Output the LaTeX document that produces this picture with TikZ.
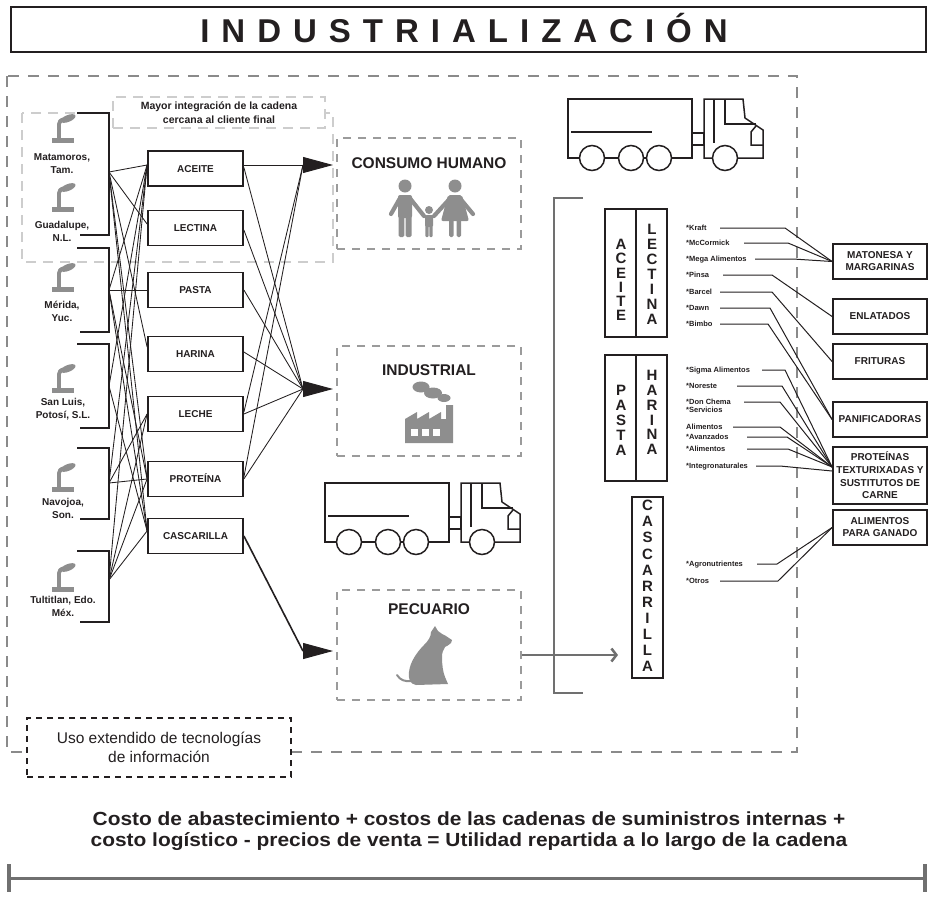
\documentclass[tikz,border=0pt]{standalone}
\usepackage{fontspec}
\setmainfont{Liberation Sans}
\newfontfamily\widesans[FakeStretch=1.1]{Liberation Sans}
\usetikzlibrary{arrows.meta}
\definecolor{ink}{HTML}{231F20}
\definecolor{icong}{HTML}{8E8E8E}
\definecolor{outerg}{HTML}{8A8A8A}
\definecolor{lightg}{HTML}{CDCDCD}
\definecolor{areag}{HTML}{9B9B9B}
\definecolor{barg}{HTML}{707070}
\newcommand{\tsp}{\kern 12pt}
\tikzset{
  prodbox/.style={draw=ink, line width=1.8pt, fill=white, minimum width=95pt, minimum height=35pt, inner sep=0pt, text height=7.2pt, text depth=0pt, font=\bfseries\fontsize{10}{12}\selectfont, text=ink},
  catbox/.style={draw=ink, line width=1.8pt, fill=white, minimum width=94pt, inner sep=0pt, align=center, font=\bfseries\fontsize{10}{12}\selectfont, text=ink},
  areabox/.style={draw=areag, line width=1.8pt, dash pattern=on 8pt off 7pt, minimum width=184pt, minimum height=110pt, inner sep=0pt},
  areatitle/.style={anchor=base, font=\bfseries\fontsize{15.5}{16}\selectfont, text=ink, inner sep=0pt},
  plantlbl/.style={align=center, font=\bfseries\fontsize{10}{13}\selectfont, text=ink, inner sep=0pt},
  vcolbox/.style={draw=ink, line width=1.8pt, fill=white, inner sep=0pt},
  vtxt/.style={align=center, inner sep=0pt, text=ink},
  complbl/.style={anchor=west, inner sep=0pt, text height=5.5pt, text depth=1.5pt, font=\bfseries\fontsize{7.5}{8}\selectfont, text=ink},
  compline/.style={draw=ink, line width=1pt},
  webline/.style={draw=ink, line width=0.85pt},
  brk/.style={draw=ink, line width=1.8pt},
  bigarrow/.style={draw=ink, line width=0.9pt, -{Triangle[length=30pt,width=16pt]}},
  truckline/.style={draw=ink, line width=1.5pt},
  plant/.pic={
    \fill[icong] (-11,0) rectangle (11,-5);
    \fill[icong] (-6,-5) rectangle (-2,-19);
    \fill[icong] (-6,-19) -- (-2,-19) .. controls (-1.5,-21) and (0,-22) .. (2,-22.5) -- (0,-25.5) .. controls (-4,-24.5) and (-6,-22) .. cycle;
    \fill[icong, rotate around={22:(5,-24.5)}] (5,-24.5) ellipse [x radius=8, y radius=3.4];
  },
  truck/.pic={
    \draw[truckline] (0,0) rectangle (124,59);
    \draw[truckline] (3,33) -- (84,33);
    \draw[truckline] (124,34) rectangle (136,46);
    \draw[truckline] (136,59) -- (136,0) -- (175,0) -- (177,19) -- (195,31) -- (195,59) -- cycle;
    \draw[truckline] (146,0) -- (146,44);
    \draw[truckline] (157,0) -- (157,25) -- (188,25);
    \draw[truckline] (188,27) -- (183,33) -- (183,46) -- (195,46);
    \foreach \cx in {24,63,91,157} {\draw[truckline, fill=white] (\cx,59) circle (12.5);}
  }
}
\begin{document}
\begin{tikzpicture}[x=1pt,y=-1pt]
\useasboundingbox (0,0) rectangle (928,900);

% ---------- title ----------
\node[draw=ink, line width=2pt, minimum width=915pt, minimum height=45pt, inner sep=0pt] (titlebox) at (468.5,29.5) {};
\node[anchor=base, inner sep=0pt, font=\bfseries\fontsize{33}{36}\selectfont, text=ink] (title) at (464,42)
  {I\tsp N\tsp D\tsp U\tsp S\tsp T\tsp R\tsp I\tsp A\tsp L\tsp I\tsp Z\tsp A\tsp C\tsp I\tsp Ó\tsp N};

% ---------- frames ----------
\draw[outerg, line width=1.5pt, dash pattern=on 11pt off 9pt] (7,76) rectangle (797,752);
\draw[lightg, line width=2pt, dash pattern=on 10pt off 7pt] (22,113) rectangle (333,262);
\node[draw=lightg, line width=2pt, dash pattern=on 10pt off 7pt, fill=white, minimum width=212pt, minimum height=31pt, inner sep=0pt, align=center, font=\bfseries\fontsize{10.5}{14}\selectfont, text=ink] (mayor) at (219,112.5) {Mayor integración de la cadena\\cercana al cliente final};
\node[draw=ink, line width=1.5pt, dash pattern=on 6pt off 5pt, fill=white, minimum width=264pt, minimum height=59pt, inner sep=0pt, align=center, font=\fontsize{15.5}{18.5}\selectfont, text=ink] (uso) at (159,747.5) {Uso extendido de tecnologías\\de información};

% ---------- plants ----------
\pic at (63,143) {plant};
\pic at (63,212) {plant};
\pic at (63,292) {plant};
\pic at (63,393) {plant};
\pic at (63,492) {plant};
\pic at (63,592) {plant};
\node[plantlbl] (matam) at (62,163.5) {Matamoros,\\Tam.};
\node[plantlbl] (guada) at (62,231) {Guadalupe,\\N.L.};
\node[plantlbl] (merid) at (62,311) {Mérida,\\Yuc.};
\node[plantlbl] (sanlu) at (63,409) {San Luis,\\Potosí, S.L.};
\node[plantlbl] (navoj) at (63,508.5) {Navojoa,\\Son.};
\node[plantlbl] (tulti) at (63,606.5) {Tultitlan, Edo.\\Méx.};

\draw[brk] (77,113) -- (109,113) -- (109,235) -- (80,235);
\draw[brk] (77,248) -- (109,248) -- (109,332) -- (80,332);
\draw[brk] (77,344) -- (109,344) -- (109,428) -- (80,428);
\draw[brk] (77,448) -- (109,448) -- (109,519) -- (80,519);
\draw[brk] (77,551) -- (109,551) -- (109,622) -- (80,622);
\coordinate (g1) at (109,172);
\coordinate (g2) at (109,290);
\coordinate (g3) at (109,386);
\coordinate (g4) at (109,483);
\coordinate (g5) at (109,580);

% ---------- products ----------
\node[prodbox] (aceite) at (195.5,168.5) {ACEITE};
\node[prodbox] (lectina) at (195.5,228) {LECTINA};
\node[prodbox] (pasta) at (195.5,290) {PASTA};
\node[prodbox] (harina) at (195.5,354) {HARINA};
\node[prodbox] (leche) at (195.5,414) {LECHE};
\node[prodbox] (proteina) at (195.5,479) {PROTEÍNA};
\node[prodbox] (cascarilla) at (195.5,536) {CASCARILLA};

\coordinate (aIn) at ([yshift=3.5pt]aceite.west);
\coordinate (lIn) at ([yshift=4pt]lectina.west);
\coordinate (pIn) at (pasta.west);
\coordinate (hIn) at ([yshift=7pt]harina.west);
\coordinate (leIn) at (leche.west);
\coordinate (prIn) at (proteina.west);
\coordinate (cIn) at ([yshift=5pt]cascarilla.west);

\foreach \s/\t in {g1/aIn, g1/lIn, g1/hIn, g1/prIn, g1/cIn,
                   g2/aIn, g2/pIn, g2/prIn, g2/cIn,
                   g3/aIn, g3/cIn,
                   g4/aIn, g4/leIn, g4/prIn,
                   g5/aIn, g5/leIn, g5/prIn, g5/cIn}
  {\draw[webline] (\s) -- (\t);}

% ---------- destination areas ----------
\node[areabox, minimum height=111pt] (human) at (429,193.5) {};
\node[areabox] (indus) at (429,401) {};
\node[areabox] (pecu) at (429,645) {};
\node[areatitle] (humanT) at (429,168) {CONSUMO HUMANO};
\node[areatitle] (indusT) at (429,375) {INDUSTRIAL};
\node[areatitle] (pecuT) at (429,614) {PECUARIO};

\coordinate (hC) at (303,165);
\coordinate (hT) at (333,165);
\coordinate (iC) at (303,389);
\coordinate (iT) at (333,389);
\coordinate (pC) at (303,651);
\coordinate (pT) at (333,651);

\draw[webline] ([yshift=3.5pt]aceite.east) -- (hC);
\draw[webline] ([yshift=1pt]aceite.east) -- (iC);
\draw[webline] ([yshift=-2pt]lectina.east) -- (iC);
\draw[webline] (pasta.east) -- (iC);
\draw[webline] ([yshift=2pt]harina.east) -- (iC);
\draw[webline] ([yshift=2pt]leche.east) -- (hC);
\draw[webline] (leche.east) -- (iC);
\draw[webline] ([yshift=2pt]proteina.east) -- (hC);
\draw[webline] (proteina.east) -- (iC);
\draw[ink, line width=1.6pt] (cascarilla.east) -- (pC);
\draw[bigarrow] (hC) -- (hT);
\draw[bigarrow] (iC) -- (iT);
\draw[bigarrow] (pC) -- (pT);

% family icon
\begin{scope}[icong]
\fill (405,186) circle (6.5);
\fill[rounded corners=2pt] (398,195) rectangle (412,218);
\fill[rounded corners=1.5pt] (398.5,214) rectangle (404.3,237);
\fill[rounded corners=1.5pt] (405.7,214) rectangle (411.5,237);
\draw[line width=4.2pt, line cap=round] (399.5,199) -- (391,214);
\draw[line width=4.2pt, line cap=round] (410.5,199) -- (424,216);
\fill (455,186) circle (6.5);
\fill[rounded corners=2pt] (448,195) -- (462,195) -- (469,221) -- (441,221) -- cycle;
\fill[rounded corners=1.5pt] (449,219) rectangle (453.5,237);
\fill[rounded corners=1.5pt] (456.5,219) rectangle (461,237);
\draw[line width=4.2pt, line cap=round] (460.5,199) -- (473,214);
\draw[line width=4.2pt, line cap=round] (449.5,199) -- (434,216);
\fill (429,210) circle (4);
\fill[rounded corners=1.5pt] (425,215) rectangle (433,227);
\fill[rounded corners=1pt] (425.3,224) rectangle (428.6,237);
\fill[rounded corners=1pt] (429.4,224) rectangle (432.7,237);
\draw[line width=3pt, line cap=round] (426,217) -- (424,216);
\draw[line width=3pt, line cap=round] (432,217) -- (434,216);
\end{scope}

% factory icon
\begin{scope}[icong]
\fill (421,387) ellipse [x radius=8.5, y radius=5.5];
\fill (433,393) ellipse [x radius=9, y radius=5.5];
\fill (444,398) ellipse [x radius=6.5, y radius=4];
\fill (405,443) -- (405,419) -- (417,412) -- (417,419) -- (429,412) -- (429,419) -- (441,412) -- (441,419) -- (446,419) -- (446,405) -- (453,405) -- (453,443) -- cycle;
\fill[white] (411,429) rectangle (418,436);
\fill[white] (422,429) rectangle (429,436);
\fill[white] (433,429) rectangle (440,436);
\end{scope}

% dog icon
\fill[icong] (435,626) -- (438,631) .. controls (441,633) and (443,635) .. (446,636) -- (452,640) -- (451,643) .. controls (449,645) and (447,646) .. (445,647) .. controls (443,650) and (442,653) .. (442,657) .. controls (442,665) and (443,672) .. (445,677) -- (448,684) -- (416,685) .. controls (410,684) and (408,679) .. (409,672) .. controls (410,662) and (417,652) .. (424,645) .. controls (428,641) and (431,637) .. (431,632) -- cycle;
\draw[icong, line width=2pt, line cap=round] (412,681) .. controls (405,682) and (400,680) .. (397,675);

% ---------- trucks ----------
\pic at (325,483) {truck};
\pic at (568,99) {truck};

% ---------- right column ----------
\draw[barg, line width=2.5pt] (583,198) -- (554,198) -- (554,693) -- (583,693);
\coordinate (gTip) at (618,655);
\draw[barg, line width=2.5pt, -{Straight Barb[length=5pt,width=13pt]}] ([yshift=-10pt]pecu.east) -- (gTip);

\node[vcolbox, minimum width=62pt, minimum height=128pt] (boxAL) at (636,273) {};
\draw[brk] (boxAL.north) -- (boxAL.south);
\node[vcolbox, minimum width=62pt, minimum height=126pt] (boxPH) at (636,418) {};
\draw[brk] (boxPH.north) -- (boxPH.south);
\node[vcolbox, minimum width=31pt, minimum height=181pt] (boxC) at (647.5,587.5) {};
\node[vtxt, font=\bfseries\fontsize{15}{14.3}\selectfont] (tAce) at (621,280) {A\\C\\E\\I\\T\\E};
\node[vtxt, font=\bfseries\fontsize{15}{15}\selectfont] (tLec) at (652,274.5) {L\\E\\C\\T\\I\\N\\A};
\node[vtxt, font=\bfseries\fontsize{15}{15}\selectfont] (tPas) at (621,420) {P\\A\\S\\T\\A};
\node[vtxt, font=\bfseries\fontsize{15}{14.8}\selectfont] (tHar) at (652,412.5) {H\\A\\R\\I\\N\\A};
\node[vtxt, font=\bfseries\fontsize{15}{16.1}\selectfont] (tCas) at (647.5,586) {C\\A\\S\\C\\A\\R\\R\\I\\L\\L\\A};

\node[catbox, minimum height=35pt] (mat) at (880,261.5) {MATONESA Y\\MARGARINAS};
\node[catbox, minimum height=35pt] (enl) at (880,316.5) {ENLATADOS};
\node[catbox, minimum height=35pt] (fri) at (880,361.5) {FRITURAS};
\node[catbox, minimum height=35pt] (pan) at (880,419.5) {PANIFICADORAS};
\node[catbox, minimum height=57pt, font=\bfseries\fontsize{10}{12.7}\selectfont] (prt) at (880,475.5) {PROTEÍNAS\\TEXTURIXADAS Y\\SUSTITUTOS DE\\CARNE};
\node[catbox, minimum height=35pt] (ali) at (880,527.5) {ALIMENTOS\\PARA GANADO};

\node[complbl] (kraft) at (686,228) {*Kraft};
\node[complbl] (mcc) at (686,243) {*McCormick};
\node[complbl] (mega) at (686,259) {*Mega Alimentos};
\node[complbl] (pinsa) at (686,275) {*Pinsa};
\node[complbl] (barcel) at (686,292) {*Barcel};
\node[complbl] (dawn) at (686,308) {*Dawn};
\node[complbl] (bimbo) at (686,324) {*Bimbo};
\node[complbl] (sigma) at (686,370) {*Sigma Alimentos};
\node[complbl] (nores) at (686,386) {*Noreste};
\node[complbl] (chema) at (686,402) {*Don Chema};
\node[complbl] (servi) at (686,410.5) {*Servicios};
\node[complbl] (alimA) at (686,427) {Alimentos};
\node[complbl] (avanz) at (686,437) {*Avanzados};
\node[complbl] (alimB) at (686,449) {*Alimentos};
\node[complbl] (integ) at (686,466) {*Integronaturales};
\node[complbl] (agro) at (686,564) {*Agronutrientes};
\node[complbl] (otros) at (686,581) {*Otros};

\draw[compline] (720,0 |- kraft.east) -- (785,0 |- kraft.east) -- (mat.west);
\draw[compline] (744,0 |- mcc.east) -- (788,0 |- mcc.east) -- (mat.west);
\draw[compline] (755,0 |- mega.east) -- (793,0 |- mega.east) -- (mat.west);
\draw[compline] (723,0 |- pinsa.east) -- (772,0 |- pinsa.east) -- (enl.west);
\draw[compline] (720,0 |- barcel.east) -- (772,0 |- barcel.east) -- (fri.west);
\draw[compline] (720,0 |- dawn.east) -- (770,0 |- dawn.east) -- (pan.west);
\draw[compline] (720,0 |- bimbo.east) -- (768,0 |- bimbo.east) -- (pan.west);
\draw[compline] (762,0 |- sigma.east) -- (785,0 |- sigma.east) -- ([yshift=8.5pt]prt.west);
\draw[compline] (737,0 |- nores.east) -- (782,0 |- nores.east) -- ([yshift=8.5pt]prt.west);
\draw[compline] (744,0 |- chema.east) -- (780,0 |- chema.east) -- ([yshift=8.5pt]prt.west);
\draw[compline] (733,0 |- alimA.east) -- (780,0 |- alimA.east) -- ([yshift=8.5pt]prt.west);
\draw[compline] (747,0 |- avanz.east) -- (787,0 |- avanz.east) -- ([yshift=8.5pt]prt.west);
\draw[compline] (747,0 |- alimB.east) -- (788,0 |- alimB.east) -- ([yshift=8.5pt]prt.west);
\draw[compline] (756,0 |- integ.east) -- (780,0 |- integ.east) -- ([yshift=4.5pt]prt.west);
\draw[compline] (757,0 |- agro.east) -- (777,0 |- agro.east) -- (ali.west);
\draw[compline] (720,0 |- otros.east) -- (778,0 |- otros.east) -- (ali.west);

% ---------- bottom ----------
\node[align=center, inner sep=0pt, font=\widesans\bfseries\fontsize{19}{21}\selectfont, text=ink] (costo) at (469,831)
  {Costo de abastecimiento + costos de las cadenas de suministros internas +\\costo logístico - precios de venta = Utilidad repartida a lo largo de la cadena};
\coordinate (barL) at (9,878);
\coordinate (barR) at (925,878);
\draw[barg, line width=3pt] (barL) -- (barR);
\draw[barg, line width=4pt] ([yshift=14pt]barL) -- ([yshift=-14pt]barL);
\draw[barg, line width=4pt] ([yshift=14pt]barR) -- ([yshift=-14pt]barR);
\end{tikzpicture}
\end{document}
